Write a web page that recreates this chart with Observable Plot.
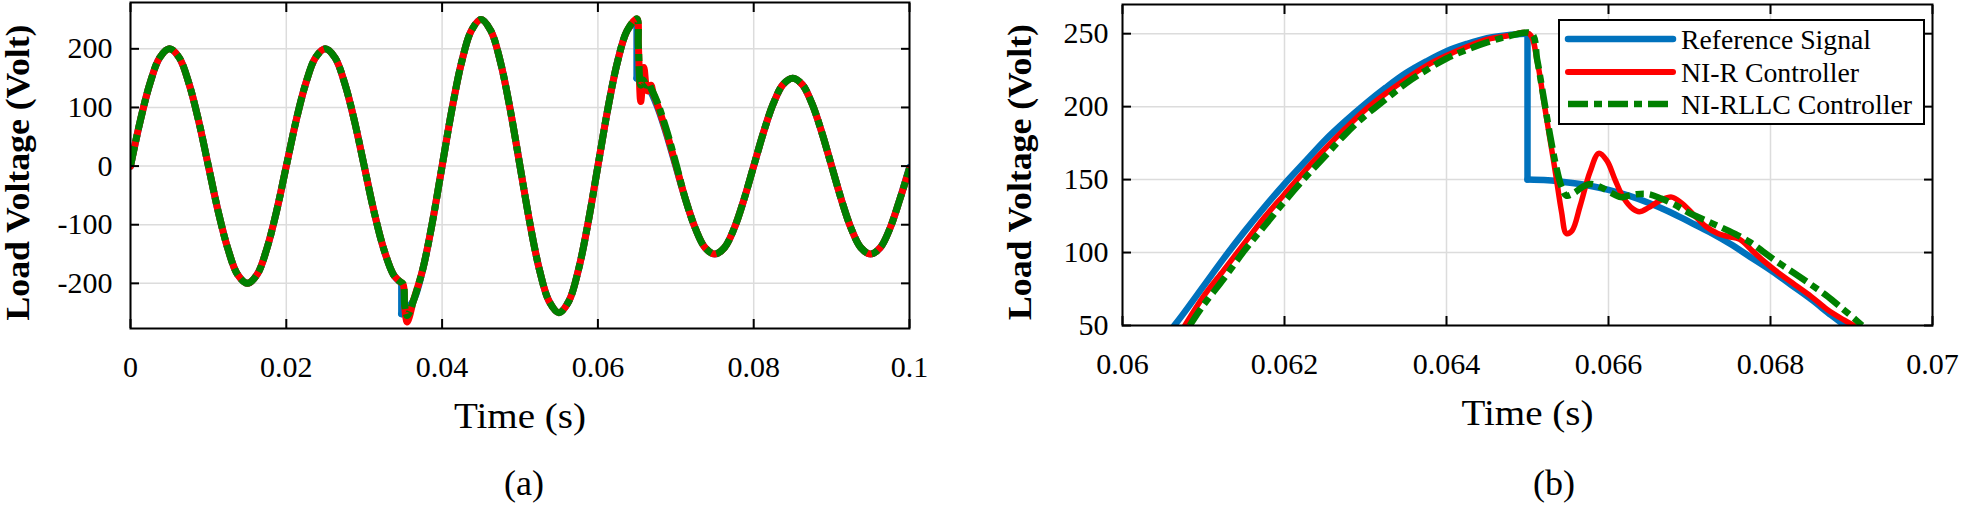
<!DOCTYPE html>
<html><head><meta charset="utf-8">
<script src="https://cdn.jsdelivr.net/npm/d3@7"></script>
<script src="https://cdn.jsdelivr.net/npm/@observablehq/plot@0.6"></script>
<style>
body{margin:0;background:#fff;}
#root{position:relative;width:1968px;height:512px;overflow:hidden;font-family:"Liberation Serif","Times New Roman",serif;color:#000;}
.panel{position:absolute;top:0;}
.cap{position:absolute;font-size:36px;line-height:36px;transform:translateX(-50%);white-space:nowrap;}
#legend{position:absolute;left:1558px;top:19px;}
</style></head><body><div id="root"></div>
<script>
// ---------- tick values ----------
const aTicksX = [0, 0.02, 0.04, 0.06, 0.08, 0.1];
const aTicksY = [-200, -100, 0, 100, 200];
const bTicksX = [0.06, 0.062, 0.064, 0.066, 0.068, 0.07];
const bTicksY = [50, 100, 150, 200, 250];
const seriesNames = ["Reference Signal", "NI-R Controller", "NI-RLLC Controller"];
const seriesColors = ["#0072BD", "#FF0000", "#008000"];

// ---------- panel (a): full record, [time s, voltage V] ----------
const aRef = [[0,0],[0.00125,77],[0.0025,141],[0.00375,185],[0.005,200],[0.00625,185],[0.0075,141],[0.00875,77],[0.01,0],[0.01125,-77],[0.0125,-141],[0.01375,-185],[0.015,-200],[0.01625,-185],[0.0175,-141],[0.01875,-77],[0.02,0],[0.02125,77],[0.0225,141],[0.02375,185],[0.025,200],[0.02625,185],[0.0275,141],[0.02875,77],[0.03,0],[0.03125,-77],[0.0325,-141],[0.03375,-185],[0.0348,-200],[0.0348,-252],[0.03625,-231],[0.0375,-177],[0.03875,-96],[0.04,0],[0.04125,96],[0.0425,177],[0.04375,231],[0.045,250],[0.04625,231],[0.0475,177],[0.04875,96],[0.05,0],[0.05125,-96],[0.0525,-177],[0.05375,-231],[0.055,-250],[0.05625,-231],[0.0575,-177],[0.05875,-96],[0.06,0],[0.06125,96],[0.0625,177],[0.06375,231],[0.065,250],[0.065,150],[0.06625,139],[0.0675,106],[0.06875,57],[0.07,0],[0.07125,-57],[0.0725,-106],[0.07375,-139],[0.075,-150],[0.07625,-139],[0.0775,-106],[0.07875,-57],[0.08,0],[0.08125,57],[0.0825,106],[0.08375,139],[0.085,150],[0.08625,139],[0.0875,106],[0.08875,57],[0.09,0],[0.09125,-57],[0.0925,-106],[0.09375,-139],[0.095,-150],[0.09625,-139],[0.0975,-106],[0.09875,-57],[0.1,-2]];
const aNIR = [[0,0],[0.00125,77],[0.0025,141],[0.00375,185],[0.005,200],[0.00625,185],[0.0075,141],[0.00875,77],[0.01,0],[0.01125,-77],[0.0125,-141],[0.01375,-185],[0.015,-200],[0.01625,-185],[0.0175,-141],[0.01875,-77],[0.02,0],[0.02125,77],[0.0225,141],[0.02375,185],[0.025,200],[0.02625,185],[0.0275,141],[0.02875,77],[0.03,0],[0.03125,-77],[0.0325,-141],[0.03375,-185],[0.0345,-196],[0.035,-202],[0.0352,-240],[0.0355,-266],[0.0358,-257],[0.03625,-233],[0.0375,-177],[0.03875,-96],[0.04,0],[0.04125,96],[0.0425,177],[0.04375,231],[0.045,250],[0.04625,231],[0.0475,177],[0.04875,96],[0.05,0],[0.05125,-96],[0.0525,-177],[0.05375,-231],[0.055,-250],[0.05625,-231],[0.0575,-177],[0.05875,-96],[0.06,0],[0.06125,96],[0.0625,177],[0.06375,231],[0.065,251],[0.0652,205],[0.0655,110],[0.0659,168],[0.0662,135],[0.0664,128],[0.0668,138],[0.0671,124],[0.0675,110],[0.06875,60],[0.07,2],[0.07125,-57],[0.0725,-106],[0.07375,-139],[0.075,-150],[0.07625,-139],[0.0775,-106],[0.07875,-57],[0.08,0],[0.08125,57],[0.0825,106],[0.08375,139],[0.085,150],[0.08625,139],[0.0875,106],[0.08875,57],[0.09,0],[0.09125,-57],[0.0925,-106],[0.09375,-139],[0.095,-150],[0.09625,-139],[0.0975,-106],[0.09875,-57],[0.1,-4]];
const aNIRLLC = [[0,0],[0.00125,77],[0.0025,141],[0.00375,185],[0.005,200],[0.00625,185],[0.0075,141],[0.00875,77],[0.01,0],[0.01125,-77],[0.0125,-141],[0.01375,-185],[0.015,-200],[0.01625,-185],[0.0175,-141],[0.01875,-77],[0.02,0],[0.02125,77],[0.0225,141],[0.02375,185],[0.025,200],[0.02625,185],[0.0275,141],[0.02875,77],[0.03,0],[0.03125,-77],[0.0325,-141],[0.03375,-185],[0.0345,-196],[0.035,-201],[0.0352,-238],[0.0355,-255],[0.0358,-250],[0.03625,-233],[0.0375,-177],[0.03875,-96],[0.04,0],[0.04125,96],[0.0425,177],[0.04375,231],[0.045,250],[0.04625,231],[0.0475,177],[0.04875,96],[0.05,0],[0.05125,-96],[0.0525,-177],[0.05375,-231],[0.055,-250],[0.05625,-231],[0.0575,-177],[0.05875,-96],[0.06,0],[0.06125,96],[0.0625,177],[0.06375,231],[0.065,251],[0.0652,205],[0.0655,138],[0.0658,147],[0.0662,138],[0.0665,141],[0.0668,133],[0.0675,113],[0.06875,64],[0.07,5],[0.07125,-57],[0.0725,-106],[0.07375,-139],[0.075,-150],[0.07625,-139],[0.0775,-106],[0.07875,-57],[0.08,0],[0.08125,57],[0.0825,106],[0.08375,139],[0.085,150],[0.08625,139],[0.0875,106],[0.08875,57],[0.09,0],[0.09125,-57],[0.0925,-106],[0.09375,-139],[0.095,-150],[0.09625,-139],[0.0975,-106],[0.09875,-57],[0.1,-4]];

// ---------- panel (b): zoom around the 0.065 s step ----------
const bRef = [[0.06064,50],[0.06075,58],[0.061,77],[0.06125,96],[0.0615,114],[0.06175,131],[0.062,147],[0.06225,162],[0.0625,177],[0.06275,190],[0.063,202],[0.06325,213],[0.0635,223],[0.06375,231],[0.064,238],[0.06425,243],[0.0645,247],[0.06475,249],[0.065,250],[0.065,150],[0.06525,149.5],[0.0655,148],[0.06575,146],[0.066,143],[0.06625,139],[0.0665,134],[0.06675,128],[0.067,121],[0.06725,114],[0.0675,106],[0.06775,97],[0.068,88],[0.06825,78],[0.0685,68],[0.06875,57],[0.06892,50]];
const bNIR = [[0.06077,50],[0.061,70],[0.06125,88],[0.0615,106],[0.06175,124],[0.062,140],[0.06225,156],[0.0625,171],[0.06275,185],[0.063,198],[0.06325,209],[0.0635,219],[0.06375,228],[0.064,235],[0.06425,241],[0.0645,246],[0.06475,248.5],[0.06502,250],[0.06512,231],[0.0652,204],[0.06528,177],[0.06535,153],[0.06542,128],[0.06548,113],[0.06555,115],[0.06565,132],[0.06577,155],[0.06588,168],[0.06598,163],[0.06608,150],[0.06618,138],[0.0663,130],[0.06638,128],[0.0665,131],[0.06665,136],[0.06678,138],[0.0669,134],[0.06705,126],[0.0672,118],[0.06735,113],[0.06748,111],[0.06762,109],[0.06778,101],[0.0679,95],[0.0681,86],[0.0683,78],[0.0685,70],[0.0687,61],[0.0689,54],[0.06903,50]];
const bNIRLLC = [[0.06083,50],[0.061,64],[0.06125,82],[0.0615,101],[0.06175,118],[0.062,135],[0.06225,151],[0.0625,166],[0.06275,181],[0.063,194],[0.06325,205],[0.0635,216],[0.06375,225],[0.064,233],[0.06425,239],[0.0645,244],[0.06475,248],[0.06505,250],[0.06512,232],[0.0652,206],[0.06528,180],[0.06535,160],[0.06542,145],[0.06548,139],[0.06558,141],[0.06568,145],[0.06578,147],[0.0659,145],[0.06603,141],[0.06615,138],[0.06625,139],[0.06635,140],[0.0665,140],[0.06665,137],[0.06681,133],[0.067,127],[0.0672,122],[0.0674,117],[0.06759,112],[0.06775,107],[0.0679,101],[0.0681,93],[0.06829,86],[0.0685,78],[0.06868,71],[0.0689,61],[0.06905,54],[0.06913,50]];

const FONT = '"Liberation Serif", "Times New Roman", serif';

// split a series at vertical steps (repeated time) so the smooth curve keeps the step sharp
function segments(arr) {
  const rows = [];
  let s = 0;
  arr.forEach((p, i) => {
    if (i > 0 && p[0] === arr[i - 1][0]) {
      s++;
      rows.push({t: arr[i - 1][0], v: arr[i - 1][1], seg: s});
      rows.push({t: p[0], v: p[1], seg: s});
      s++;
    }
    rows.push({t: p[0], v: p[1], seg: s});
  });
  return rows;
}

function makePanel(c) {
  const lines = c.series.map(s => Plot.line(segments(s.data), {
    x: "t", y: "v", z: "seg", stroke: s.color, strokeWidth: s.width,
    strokeDasharray: s.dash, strokeLinecap: s.dash ? "butt" : "round", strokeLinejoin: "round",
    curve: "catmull-rom", clip: true
  }));
  const tickOpts = {tickFormat: () => "", label: null, strokeWidth: 2, tickSize: 9};
  const svg = Plot.plot({
    width: c.width, height: c.height,
    marginLeft: c.mL, marginRight: c.mR, marginTop: c.mT, marginBottom: c.mB,
    style: {fontFamily: FONT, background: "transparent", color: "#000", overflow: "visible"},
    x: {domain: c.xDomain},
    y: {domain: c.yDomain},
    marks: [
      Plot.gridX(c.xTicks, {stroke: "#dcdcdc", strokeOpacity: 1, strokeWidth: 1.5}),
      Plot.gridY(c.yTicks, {stroke: "#dcdcdc", strokeOpacity: 1, strokeWidth: 1.5}),
      ...lines,
      Plot.frame({stroke: "#000", strokeWidth: 2}),
      Plot.axisX(c.xTicks, {...tickOpts, anchor: "bottom", dy: -9}),
      Plot.axisX(c.xTicks, {...tickOpts, anchor: "top", dy: 9}),
      Plot.axisY(c.yTicks, {...tickOpts, anchor: "left", dx: 9}),
      Plot.axisY(c.yTicks, {...tickOpts, anchor: "right", dx: -9}),
      Plot.axisX(c.xTicks, {anchor: "bottom", tickSize: 0, tickPadding: c.xPad, tickFormat: d => String(d), fontSize: 30, label: null}),
      Plot.axisY(c.yTicks, {anchor: "left", tickSize: 0, tickPadding: c.yPad, tickFormat: d => String(d), fontSize: 30, label: null}),
      Plot.text(["Time (s)"], {frameAnchor: "bottom", text: d => d, dy: c.xLabelDy, fontSize: 35, lineAnchor: "middle"}),
      Plot.text(["Load Voltage (Volt)"], {frameAnchor: "left", text: d => d, dx: c.yLabelDx, dy: 7, rotate: -90, fontSize: 34, fontWeight: "bold", lineAnchor: "middle", textAnchor: "middle"})
    ]
  });
  svg.querySelectorAll("text").forEach(t => {
    if (t.textContent === "Load Voltage (Volt)") {
      t.setAttribute("textLength", 296); t.setAttribute("lengthAdjust", "spacingAndGlyphs");
    } else if (t.textContent === "Time (s)") {
      t.setAttribute("textLength", 132); t.setAttribute("lengthAdjust", "spacingAndGlyphs");
    }
  });
  return svg;
}

const root = document.getElementById("root");

const pa = makePanel({
  width: 960, height: 440, mL: 130, mR: 51, mT: 2, mB: 112,
  xDomain: [0, 0.1], yDomain: [-277, 279], xTicks: aTicksX, yTicks: aTicksY,
  xPad: 27, yPad: 18, xLabelDy: 88, yLabelDx: -112,
  series: [
    {data: aRef, color: seriesColors[0], width: 7},
    {data: aNIR, color: seriesColors[1], width: 7},
    {data: aNIRLLC, color: seriesColors[2], width: 7, dash: "20,5,7,5"}
  ]
});
pa.classList.add("panel"); pa.style.left = "0px";
root.appendChild(pa);

const pb = makePanel({
  width: 1008, height: 440, mL: 162, mR: 36, mT: 4, mB: 115,
  xDomain: [0.06, 0.07], yDomain: [50, 270], xTicks: bTicksX, yTicks: bTicksY,
  xPad: 27, yPad: 14, xLabelDy: 88, yLabelDx: -102,
  series: [
    {data: bRef, color: seriesColors[0], width: 6.5},
    {data: bNIR, color: seriesColors[1], width: 5.5},
    {data: bNIRLLC, color: seriesColors[2], width: 6.5, dash: "20,6,8,6"}
  ]
});
pb.classList.add("panel"); pb.style.left = "960px";
root.appendChild(pb);

// captions
[["(a)", 524], ["(b)", 1554]].forEach(([t, x]) => {
  const d = document.createElement("div");
  d.className = "cap"; d.textContent = t;
  d.style.left = x + "px"; d.style.top = "465px";
  root.appendChild(d);
});

// legend
const NS = "http://www.w3.org/2000/svg";
const lg = document.createElementNS(NS, "svg");
lg.setAttribute("id", "legend");
lg.setAttribute("width", 368); lg.setAttribute("height", 107);
const rect = document.createElementNS(NS, "rect");
Object.entries({x: 1, y: 1, width: 365, height: 104, fill: "#fff", stroke: "#000", "stroke-width": 2}).forEach(([k, v]) => rect.setAttribute(k, v));
lg.appendChild(rect);
const dashes = [null, null, "20,6,8,6"];
const widths = [6.5, 6, 6.5];
const textLens = [190, 178, 231];
[20, 53, 85].forEach((y, i) => {
  const l = document.createElementNS(NS, "line");
  Object.entries({x1: 10, x2: 115, y1: y, y2: y, stroke: seriesColors[i], "stroke-width": widths[i], "stroke-linecap": dashes[i] ? "butt" : "round"}).forEach(([k, v]) => l.setAttribute(k, v));
  if (dashes[i]) l.setAttribute("stroke-dasharray", dashes[i]);
  lg.appendChild(l);
  const t = document.createElementNS(NS, "text");
  t.setAttribute("x", 123); t.setAttribute("y", y); t.setAttribute("dy", "0.35em");
  t.setAttribute("font-size", 28); t.setAttribute("font-family", FONT);
  t.setAttribute("textLength", textLens[i]); t.setAttribute("lengthAdjust", "spacingAndGlyphs");
  t.textContent = seriesNames[i];
  lg.appendChild(t);
});
root.appendChild(lg);
</script>
</body></html>
